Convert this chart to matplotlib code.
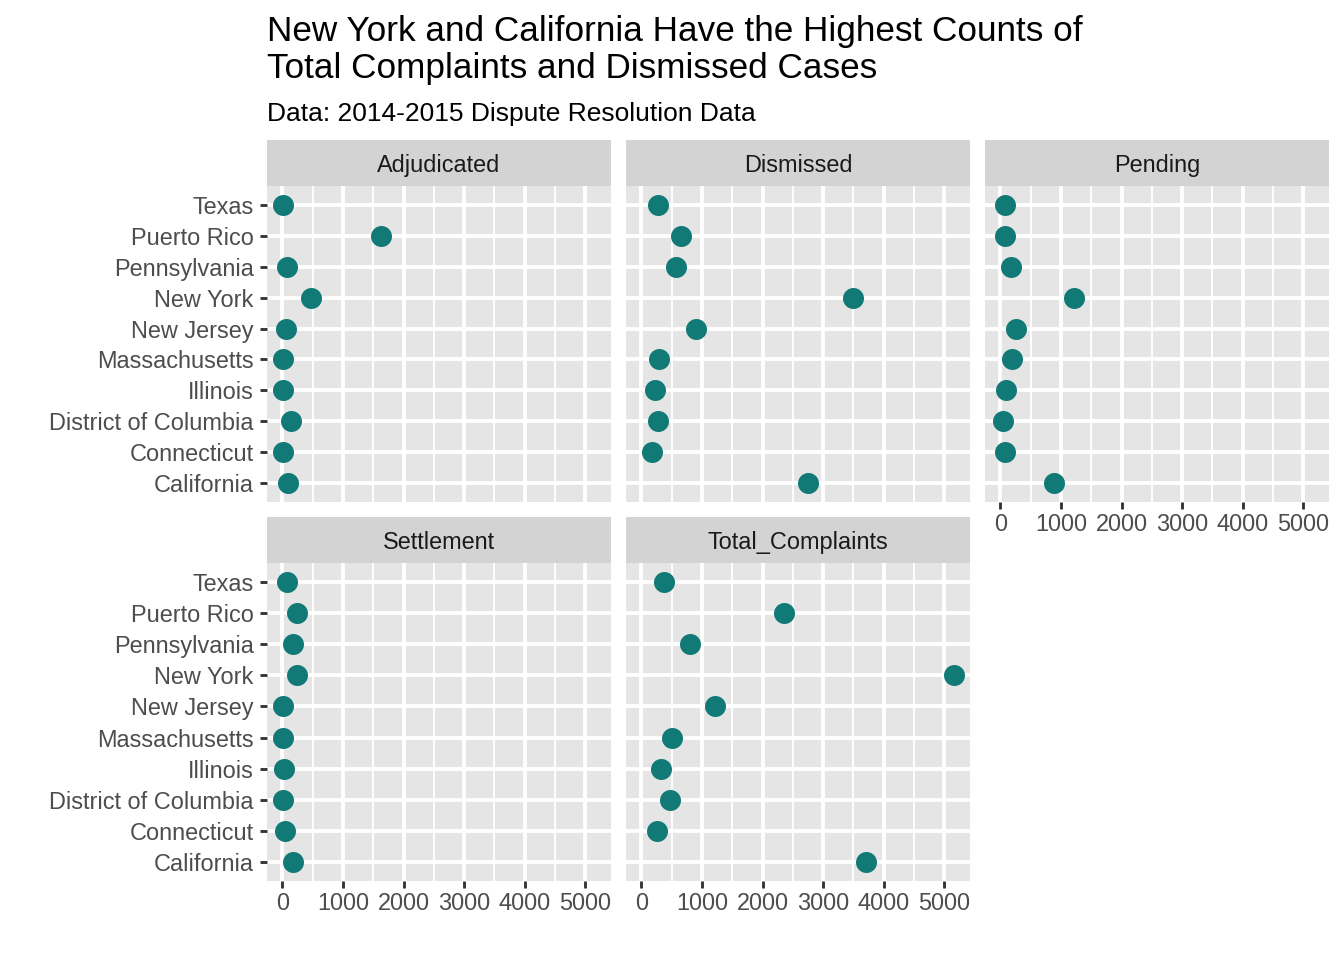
import numpy as np
import matplotlib
matplotlib.use("Agg")
import matplotlib.pyplot as plt

states = ["California", "Connecticut", "District of Columbia", "Illinois",
          "Massachusetts", "New Jersey", "New York", "Pennsylvania",
          "Puerto Rico", "Texas"]

adjudicated = [88, 5, 143, 16, 11, 55, 467, 71, 1632, 16]
dismissed = [2742, 181, 280, 225, 297, 896, 3495, 566, 648, 274]
pending = [892, 72, 44, 88, 193, 264, 1222, 176, 77, 83]
settlement = [176, 38, 5, 33, 16, 16, 236, 170, 236, 71]
total_complaints = [3713, 253, 467, 324, 500, 1220, 5165, 808, 2352, 373]

facets = ["Adjudicated", "Dismissed", "Pending", "Settlement", "Total_Complaints"]
values = [adjudicated, dismissed, pending, settlement, total_complaints]

title = "New York and California Have the Highest Counts of\nTotal Complaints and Dismissed Cases"
subtitle = "Data: 2014-2015 Dispute Resolution Data"

plt.rcParams['font.family'] = ['Liberation Sans', 'DejaVu Sans']

W, H = 1344, 960
fig = plt.figure(figsize=(7, 5), dpi=192)

# shared x range, ggplot style 5% expansion
allv = np.concatenate([np.array(v) for v in values])
lo, hi = allv.min(), allv.max()
pad = 0.05 * (hi - lo)
xlim = (lo - pad, hi + pad)

col_left = [267, 626, 985]
pw = 344
rows = [(186, 502), (563, 881)]
strip_h = 46

def fx(px):
    return px / W

def fy(py):
    return 1 - py / H

y = np.arange(1, len(states) + 1)
for i, (name, vals) in enumerate(zip(facets, values)):
    r, c = divmod(i, 3)
    top, bot = rows[r]
    ax = fig.add_axes([fx(col_left[c]), fy(bot), pw / W, (bot - top) / H])
    ax.set_facecolor("#E5E5E5")
    ax.scatter(vals, y, s=62, color="#117A77", zorder=3, linewidths=0)
    ax.set_xlim(xlim)
    ax.set_ylim(0.4, len(states) + 0.6)
    ax.set_xticks([0, 1000, 2000, 3000, 4000, 5000])
    ax.set_xticks([500, 1500, 2500, 3500, 4500], minor=True)
    ax.set_yticks(y)
    ax.grid(which="major", color="white", linewidth=1.42)
    ax.grid(which="minor", axis="x", color="white", linewidth=0.71)
    ax.set_axisbelow(True)
    for s in ax.spines.values():
        s.set_visible(False)
    ax.tick_params(axis="both", which="major", length=2.75, width=1.07,
                   color="#333333", labelcolor="#4D4D4D", labelsize=8.8, pad=2.2)
    ax.tick_params(axis="x", which="major", pad=1.4)
    ax.tick_params(axis="both", which="minor", length=0)
    if c == 0:
        ax.set_yticklabels(states)
    else:
        ax.tick_params(axis="y", which="major", length=0, labelleft=False)
    if r == 1 or c == 2:
        ax.set_xticklabels(["0", "1000", "2000", "3000", "4000", "5000"])
    else:
        ax.tick_params(axis="x", which="major", length=0, labelbottom=False)

    sax = fig.add_axes([fx(col_left[c]), fy(top), pw / W, strip_h / H])
    sax.set_facecolor("#D3D3D3")
    sax.set_xticks([])
    sax.set_yticks([])
    for s in sax.spines.values():
        s.set_visible(False)
    sax.text(0.5, 0.5, name, ha="center", va="center_baseline", fontsize=8.8,
             color="#1A1A1A", transform=sax.transAxes)

lines = title.split("\n")
fig.text(fx(267), fy(41), lines[0], fontsize=13.2, ha="left", va="baseline", color="black")
fig.text(fx(267), fy(78), lines[1], fontsize=13.2, ha="left", va="baseline", color="black")
fig.text(fx(267), fy(121), subtitle, fontsize=9.9, ha="left", va="baseline", color="black")

fig.savefig("out.png", dpi=192, facecolor="white")
